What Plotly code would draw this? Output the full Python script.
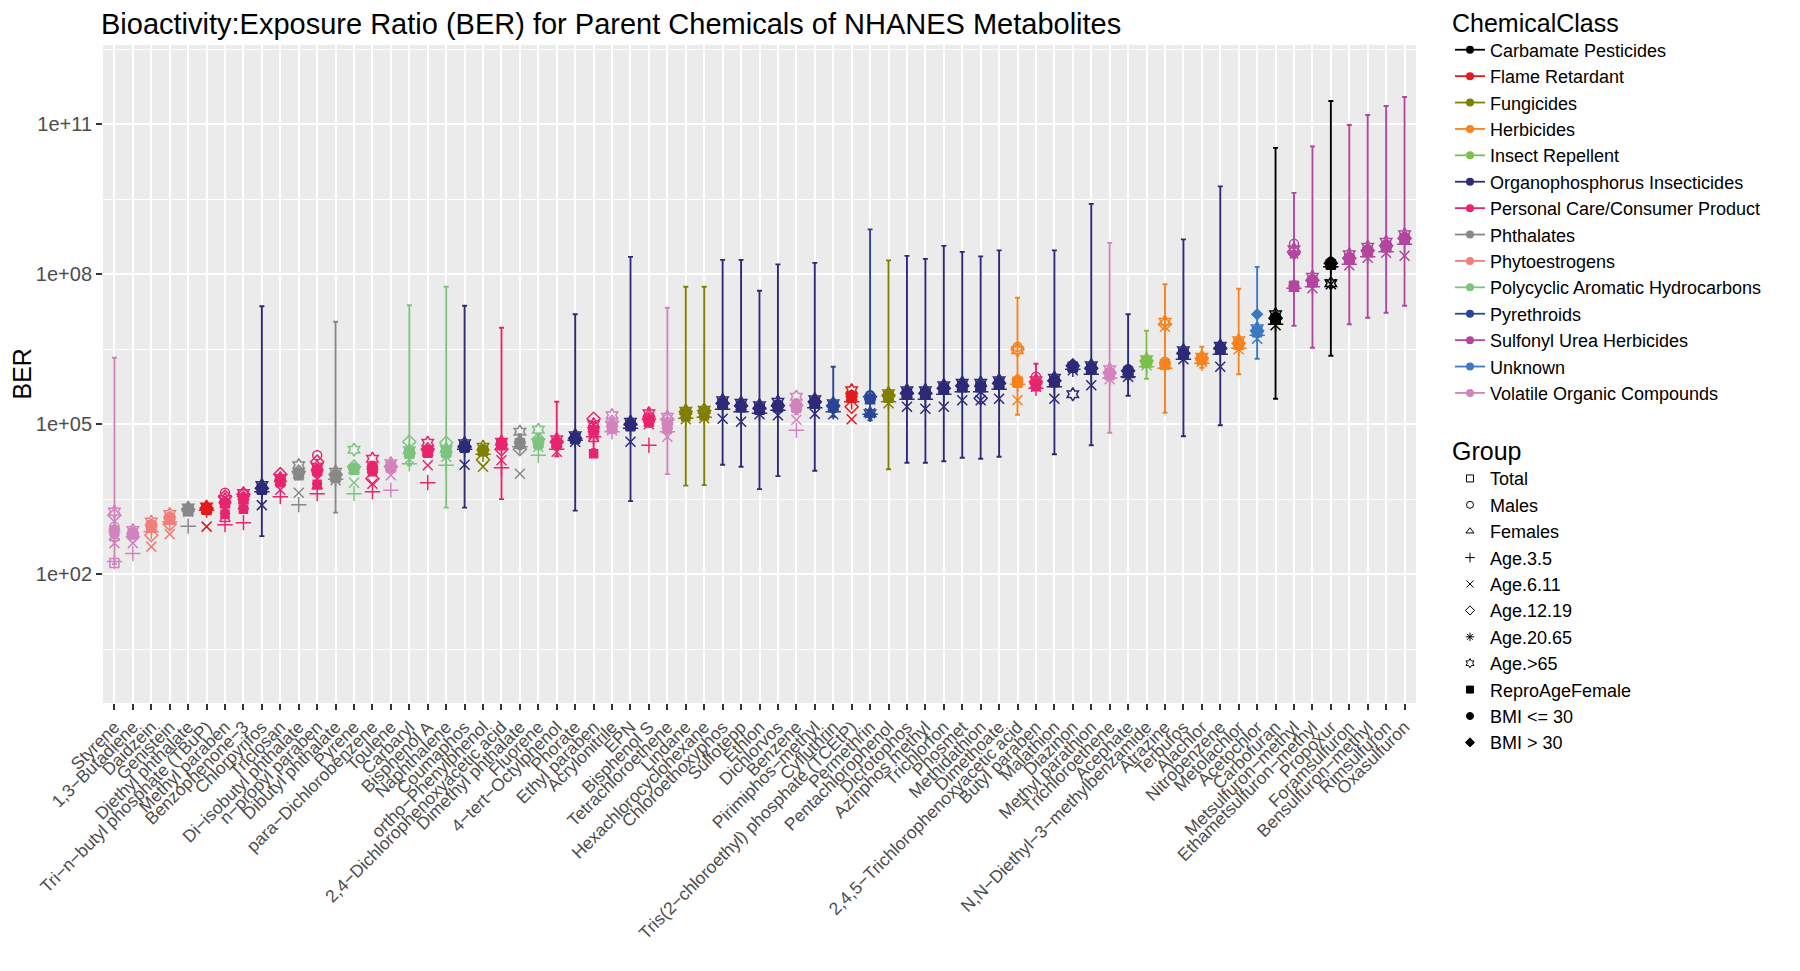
import plotly.graph_objects as go

# ---------------- data ----------------
chemicals = [
    "Styrene", "1,3−Butadiene", "Daidzein", "Genistein", "Diethyl phthalate",
    "Tri−n−butyl phosphate (TBuP)", "Methyl paraben", "Benzophenone−3", "Chlorpyrifos", "Triclosan",
    "Di−isobutyl phthalate", "n−propyl paraben", "Dibutyl phthalate", "Pyrene", "para−Dichlorobenzene",
    "Toulene", "Carbaryl", "Bisphenol A", "Naphthalene", "Coumaphos",
    "ortho−Phenylphenol", "2,4−Dichlorophenoxyacetic acid", "Dimethyl phthalate", "Fluorene", "4−tert−Octylphenol",
    "Phorate", "Ethyl paraben", "Acrylonitrile", "EPN", "Bisphenol S",
    "Tetrachloroethene", "Lindane", "Hexachlorocyclohexane", "Chloroethoxyphos", "Sulfotepp",
    "Ethion", "Dichlorvos", "Benzene", "Pirimiphos−methyl", "Cyfluthrin",
    "Tris(2−chloroethyl) phosphate (TCEtP)", "Permethrin", "Pentachlorophenol", "Dicrotophos", "Azinphos methyl",
    "Trichlorfon", "Phosmet", "Methidathion", "Dimethoate", "2,4,5−Trichlorophenoxyacetic acid",
    "Butyl paraben", "Malathion", "Diazinon", "Methyl parathion", "Trichloroethene",
    "Acephate", "N,N−Diethyl−3−methylbenzamide", "Atrazine", "Terbufos", "Alachlor",
    "Nitrobenzene", "Metolachlor", "Acetochlor", "Carbofuran", "Metsulfuron−methyl",
    "Ethametsulfuron−methyl", "Propoxur", "Foramsulfuron", "Bensulfuron−methyl", "Rimsulfuron",
    "Oxasulfuron",
]

chem_class = [
    "VOC", "VOC", "Phyto", "Phyto", "Phth", "Flame", "PC", "PC", "OP", "PC",
    "Phth", "PC", "Phth", "PAH", "PC", "VOC", "PAH", "PC", "PAH", "OP",
    "Fung", "PC", "Phth", "PAH", "PC", "OP", "PC", "VOC", "OP", "PC",
    "VOC", "Fung", "Fung", "OP", "OP", "OP", "OP", "VOC", "OP", "Pyr",
    "Flame", "Pyr", "Fung", "OP", "OP", "OP", "OP", "OP", "OP", "Herb",
    "PC", "OP", "OP", "OP", "VOC", "OP", "Insect", "Herb", "OP", "Herb",
    "OP", "Herb", "Unknown", "Carb", "SU", "SU", "Carb", "SU", "SU", "SU",
    "SU",
]

class_keys = ["Carb", "Flame", "Fung", "Herb", "Insect", "OP", "PC", "Phth",
              "Phyto", "PAH", "Pyr", "SU", "Unknown", "VOC"]
class_labels = ["Carbamate Pesticides", "Flame Retardant", "Fungicides", "Herbicides",
                "Insect Repellent", "Organophosphorus Insecticides",
                "Personal Care/Consumer Product", "Phthalates", "Phytoestrogens",
                "Polycyclic Aromatic Hydrocarbons", "Pyrethroids",
                "Sulfonyl Urea Herbicides", "Unknown", "Volatile Organic Compounds"]
class_colors = ["#000000", "#E41A1C", "#7F7F00", "#F8821E", "#7CC04A", "#2D2A77",
                "#E7256E", "#888888", "#F07F7A", "#7DC47F", "#2A4597", "#B2479E",
                "#3A7AC2", "#D283BD"]

# log10(BER) by group
log10_total = [
    2.22, 2.80, 2.95, 3.10, 3.28, 3.30, 3.42, 3.50, 3.70, 3.87,
    4.00, 4.08, 3.95, 4.10, 4.12, 4.15, 4.43, 4.45, 4.45, 4.55,
    4.47, 4.60, 4.62, 4.63, 4.62, 4.72, 4.88, 4.95, 4.98, 5.05,
    5.00, 5.20, 5.22, 5.40, 5.35, 5.30, 5.35, 5.35, 5.42, 5.35,
    5.55, 5.50, 5.55, 5.60, 5.60, 5.70, 5.75, 5.75, 5.80, 5.85,
    5.80, 5.85, 6.15, 6.10, 6.00, 6.05, 6.25, 6.20, 6.40, 6.30,
    6.50, 6.60, 6.85, 7.10, 7.75, 7.85, 8.20, 8.30, 8.45, 8.55, 8.70]
log10_males = [
    2.95, 2.85, 3.00, 3.15, 3.30, 3.33, 3.63, 3.60, 3.75, 3.90,
    4.02, 4.38, 3.98, 4.13, 4.15, 4.18, 4.45, 4.48, 4.48, 4.58,
    4.50, 4.62, 4.65, 4.66, 4.65, 4.75, 4.95, 5.00, 5.02, 5.10,
    5.05, 5.23, 5.25, 5.45, 5.40, 5.35, 5.40, 5.40, 5.47, 5.40,
    5.58, 5.58, 5.60, 5.65, 5.65, 5.75, 5.80, 5.80, 5.85, 6.55,
    5.95, 5.90, 6.18, 6.15, 6.05, 6.10, 6.28, 6.25, 6.45, 6.33,
    6.55, 6.65, 6.88, 7.15, 8.61, 7.90, 8.25, 8.35, 8.50, 8.60, 8.75]
log10_females = [
    2.72, 2.78, 2.90, 3.05, 3.26, 3.27, 3.10, 3.35, 3.68, 3.83,
    3.97, 3.75, 3.92, 4.07, 4.08, 4.12, 4.40, 4.42, 4.42, 4.52,
    4.45, 4.57, 4.60, 4.60, 4.60, 4.70, 4.70, 4.92, 4.95, 5.20,
    4.95, 5.17, 5.19, 5.38, 5.33, 5.28, 5.33, 5.33, 5.40, 5.33,
    5.52, 5.52, 5.52, 5.58, 5.58, 5.68, 5.73, 5.73, 5.78, 5.90,
    5.78, 5.83, 6.12, 6.08, 5.97, 6.03, 6.22, 6.18, 6.38, 6.28,
    6.48, 6.58, 6.83, 7.08, 7.80, 7.83, 8.18, 8.28, 8.43, 8.53, 8.68]
log10_age_3_5 = [
    2.25, 2.41, 2.85, 3.05, 2.96, 3.28, 2.99, 3.03, 3.65, 3.55,
    3.39, 3.61, 3.90, 3.61, 3.65, 3.68, 4.21, 3.83, 4.18, 4.50,
    4.40, 4.13, 4.55, 4.38, 4.50, 4.68, 4.75, 4.85, 4.92, 4.58,
    4.85, 5.12, 5.14, 5.30, 5.25, 5.22, 5.28, 4.88, 5.33, 5.25,
    5.45, 5.20, 5.45, 5.50, 5.50, 5.60, 5.65, 5.65, 5.70, 5.80,
    5.72, 5.75, 6.10, 6.00, 5.92, 5.95, 6.15, 6.12, 6.30, 6.22,
    6.40, 6.52, 6.78, 7.00, 7.72, 7.75, 8.15, 8.20, 8.35, 8.45, 8.60]
log10_age_6_11 = [
    2.62, 2.62, 2.55, 2.80, 3.25, 2.95, 3.30, 3.40, 3.38, 3.69,
    3.63, 3.90, 3.88, 3.83, 3.81, 3.98, 4.30, 4.18, 4.35, 4.19,
    4.15, 4.28, 4.01, 4.55, 4.45, 4.65, 4.80, 4.88, 4.65, 5.00,
    4.75, 5.10, 5.12, 5.11, 5.05, 5.20, 5.18, 5.09, 5.21, 5.20,
    5.10, 5.22, 5.42, 5.35, 5.31, 5.35, 5.48, 5.48, 5.51, 5.48,
    5.75, 5.51, 6.08, 5.78, 5.90, 5.95, 6.18, 6.95, 6.30, 6.25,
    6.15, 6.50, 6.71, 6.98, 7.75, 7.72, 7.80, 8.18, 8.33, 8.43, 8.37]
log10_age_12_19 = [
    3.18, 2.75, 2.78, 3.00, 3.30, 3.32, 3.55, 3.60, 3.72, 4.00,
    4.05, 4.25, 4.00, 4.15, 3.91, 4.15, 4.65, 4.50, 4.63, 4.55,
    4.29, 4.50, 4.50, 4.70, 4.65, 4.72, 5.11, 5.05, 5.00, 5.10,
    5.10, 5.25, 5.27, 5.42, 5.37, 5.32, 5.37, 5.38, 5.45, 5.37,
    5.35, 5.55, 5.58, 5.62, 5.62, 5.72, 5.77, 5.52, 5.82, 6.50,
    5.85, 5.87, 6.17, 6.12, 6.03, 6.07, 6.27, 7.00, 6.42, 6.32,
    6.52, 6.62, 6.87, 7.12, 8.45, 7.88, 8.22, 8.32, 8.47, 8.57, 8.72]
log10_age_20_65 = [
    2.85, 2.80, 2.95, 3.10, 3.28, 3.30, 3.42, 3.50, 3.70, 3.87,
    4.00, 4.05, 3.95, 4.10, 4.10, 4.15, 4.43, 4.45, 4.45, 4.55,
    4.47, 4.60, 4.62, 4.63, 4.62, 4.72, 4.85, 4.95, 4.98, 5.05,
    5.00, 5.20, 5.22, 5.40, 5.35, 5.30, 5.35, 5.35, 5.42, 5.35,
    5.55, 5.50, 5.55, 5.60, 5.60, 5.70, 5.75, 5.75, 5.80, 5.85,
    5.80, 5.85, 6.15, 6.10, 6.00, 6.05, 6.25, 6.20, 6.40, 6.30,
    6.50, 6.60, 6.85, 7.10, 8.40, 7.85, 8.20, 8.30, 8.45, 8.55, 8.70]
log10_age_65plus = [
    3.25, 2.88, 3.05, 3.20, 3.33, 3.35, 3.50, 3.62, 3.78, 3.92,
    4.18, 4.15, 4.05, 4.49, 4.31, 4.22, 4.48, 4.63, 4.50, 4.62,
    4.55, 4.65, 4.85, 4.89, 4.70, 4.78, 5.00, 5.18, 5.05, 5.22,
    5.15, 5.27, 5.29, 5.48, 5.43, 5.38, 5.45, 5.55, 5.50, 5.42,
    5.68, 5.22, 5.62, 5.68, 5.68, 5.78, 5.83, 5.83, 5.88, 6.48,
    5.88, 5.93, 5.60, 6.18, 6.10, 6.00, 6.30, 7.05, 6.48, 6.35,
    6.57, 6.68, 6.92, 7.20, 8.50, 7.95, 7.82, 8.40, 8.55, 8.65, 8.80]
log10_repro_female = [
    2.88, 2.82, 2.92, 3.08, 3.25, 3.28, 3.20, 3.30, 3.68, 3.83,
    3.97, 3.80, 3.92, 4.08, 4.05, 4.12, 4.40, 4.42, 4.42, 4.52,
    4.45, 4.57, 4.60, 4.60, 4.58, 4.70, 4.41, 4.90, 4.95, 5.05,
    4.90, 5.15, 5.17, 5.38, 5.33, 5.28, 5.33, 5.32, 5.40, 5.33,
    5.52, 5.50, 5.52, 5.58, 5.58, 5.68, 5.73, 5.73, 5.78, 5.82,
    5.75, 5.83, 6.12, 6.08, 5.97, 6.03, 6.22, 6.18, 6.38, 6.28,
    6.48, 6.58, 6.83, 7.08, 7.78, 7.83, 8.18, 8.28, 8.43, 8.53, 8.68]
log10_bmi_le30 = [
    2.80, 2.80, 2.95, 3.10, 3.28, 3.30, 3.40, 3.50, 3.70, 3.86,
    4.00, 4.05, 3.95, 4.10, 4.10, 4.15, 4.43, 4.45, 4.45, 4.55,
    4.47, 4.60, 4.62, 4.63, 4.62, 4.72, 4.85, 4.95, 4.98, 5.05,
    5.00, 5.20, 5.22, 5.40, 5.35, 5.30, 5.35, 5.35, 5.42, 5.35,
    5.55, 5.52, 5.55, 5.60, 5.60, 5.70, 5.75, 5.75, 5.80, 5.85,
    5.80, 5.85, 6.15, 6.10, 6.00, 6.05, 6.25, 6.20, 6.40, 6.30,
    6.50, 6.60, 6.85, 7.10, 7.75, 7.85, 8.20, 8.30, 8.45, 8.55, 8.70]
log10_bmi_gt30 = [
    2.90, 2.83, 3.00, 3.15, 3.30, 3.32, 3.45, 3.55, 3.72, 3.90,
    4.03, 4.10, 3.97, 4.12, 4.15, 4.18, 4.45, 4.48, 4.47, 4.58,
    4.50, 4.62, 4.65, 4.65, 4.65, 4.74, 4.90, 4.98, 5.00, 5.08,
    5.02, 5.22, 5.24, 5.43, 5.38, 5.33, 5.38, 5.38, 5.45, 5.38,
    5.58, 5.20, 5.58, 5.63, 5.63, 5.73, 5.78, 5.78, 5.83, 5.90,
    5.83, 5.88, 6.20, 6.13, 6.03, 6.08, 6.28, 6.23, 6.43, 6.33,
    6.53, 6.63, 7.20, 7.13, 8.40, 7.88, 8.25, 8.33, 8.48, 8.58, 8.73]

# interval around the Total estimate (log10 BER)
log10_lower = [
    2.20, 2.75, 2.85, 3.00, 3.20, 3.25, 3.30, 3.35, 2.76, 3.80,
    3.95, 3.95, 3.23, 4.00, 4.00, 4.05, 4.18, 4.35, 3.33, 3.33,
    4.40, 3.50, 4.50, 4.50, 4.36, 3.27, 4.50, 4.85, 3.46, 4.95,
    4.00, 3.77, 3.78, 4.19, 4.15, 3.70, 3.96, 5.20, 4.07, 5.15,
    5.45, 5.08, 4.10, 4.23, 4.23, 4.26, 4.33, 4.31, 4.35, 5.19,
    5.70, 4.40, 6.05, 4.58, 4.83, 5.57, 5.91, 5.23, 4.76, 6.13,
    4.98, 6.00, 6.31, 5.51, 6.97, 6.53, 6.37, 7.00, 7.13, 7.23, 7.37]
log10_upper = [
    6.33, 2.90, 3.05, 3.22, 3.35, 3.36, 3.55, 3.62, 7.36, 3.95,
    4.10, 4.20, 7.05, 4.20, 4.25, 4.22, 7.38, 4.55, 7.75, 7.37,
    4.58, 6.93, 4.80, 4.80, 5.45, 7.20, 5.05, 5.12, 8.35, 5.15,
    7.33, 7.75, 7.75, 8.29, 8.29, 7.67, 8.20, 5.50, 8.23, 6.15,
    5.65, 8.90, 8.28, 8.37, 8.31, 8.57, 8.45, 8.36, 8.48, 7.53,
    6.21, 8.48, 6.25, 9.41, 8.63, 7.20, 6.87, 7.80, 8.70, 6.55,
    9.76, 7.71, 8.15, 10.53, 9.63, 10.56, 11.47, 10.99, 11.19, 11.37, 11.55]

group_names = ["Total", "Males", "Females", "Age.3.5", "Age.6.11", "Age.12.19",
               "Age.20.65", "Age.>65", "ReproAgeFemale", "BMI <= 30", "BMI > 30"]
group_values = [log10_total, log10_males, log10_females, log10_age_3_5, log10_age_6_11,
                log10_age_12_19, log10_age_20_65, log10_age_65plus, log10_repro_female,
                log10_bmi_le30, log10_bmi_gt30]
group_symbols = ["square-open", "circle-open", "triangle-up-open", "cross-thin-open",
                 "x-thin-open", "diamond-open", "asterisk-open", "hexagram-open",
                 "square", "circle", "diamond"]
group_sizes = [9, 9, 9, 11, 10, 10, 10, 10, 8, 9, 8]

FONT = "Liberation Sans, Arial, Helvetica, sans-serif"
color_of = dict(zip(class_keys, class_colors))
label_of = dict(zip(class_keys, class_labels))
point_colors = [color_of[c] for c in chem_class]

fig = go.Figure()

# error bars, one trace per class
for key in class_keys:
    idx = [i for i, c in enumerate(chem_class) if c == key]
    if not idx:
        continue
    yv = [10 ** log10_total[i] for i in idx]
    up = [10 ** log10_upper[i] - 10 ** log10_total[i] for i in idx]
    dn = [10 ** log10_total[i] - 10 ** log10_lower[i] for i in idx]
    fig.add_trace(go.Scatter(
        x=[chemicals[i] for i in idx], y=yv, mode="markers",
        marker=dict(size=1, color="rgba(0,0,0,0)"),
        error_y=dict(type="data", symmetric=False, array=up, arrayminus=dn,
                     color=color_of[key], thickness=1.9, width=2.5),
        showlegend=False, hoverinfo="skip"))

# points, one trace per group
for g, vals, sym, sz in zip(group_names, group_values, group_symbols, group_sizes):
    fig.add_trace(go.Scatter(
        x=chemicals, y=[10 ** v for v in vals], mode="markers", name=g,
        marker=dict(symbol=sym, size=sz, color=point_colors,
                    line=dict(color=point_colors, width=1.5)),
        showlegend=False))

# legend entries: chemical class
for key in class_keys:
    fig.add_trace(go.Scatter(
        x=[None], y=[None], mode="lines+markers", name=label_of[key],
        line=dict(color=color_of[key], width=1.8),
        marker=dict(symbol="circle", size=8, color=color_of[key]),
        legend="legend"))

# legend entries: group
for g, sym in zip(group_names, group_symbols):
    fig.add_trace(go.Scatter(
        x=[None], y=[None], mode="markers", name=g,
        marker=dict(symbol=sym, size=7, color="black", line=dict(color="black", width=1)),
        legend="legend2"))

# page has an 8px body margin; lay out in figure coordinates accordingly
OFF = 8
SW, SH = 1800, 971
W, H = SW - OFF, SH - OFF
L, R, T, B = 102.5 - OFF, 1416.0 - OFF, 45.0 - OFF, 703.5 - OFF
ph = B - T
pw = R - L

fig.update_layout(
    width=W, height=H,
    margin=dict(l=L, r=W - R, t=T, b=H - B, autoexpand=False),
    paper_bgcolor="white", plot_bgcolor="#EBEBEB",
    font=dict(family=FONT, color="black"),
    title=dict(text="Bioactivity:Exposure Ratio (BER) for Parent Chemicals of NHANES Metabolites",
               x=(101 - OFF) / W, xanchor="left", y=1 - 6 / H, yanchor="top",
               font=dict(size=29, family=FONT, color="black")),
    xaxis=dict(type="category", categoryorder="array", categoryarray=chemicals,
               tickmode="array", tickvals=chemicals, ticktext=chemicals,
               range=[-0.62, len(chemicals) - 1 + 0.62],
               showgrid=True, gridcolor="white", gridwidth=2.2, zeroline=False,
               showline=False, ticks="outside", ticklen=6, tickwidth=1.6, tickcolor="#333333",
               tickangle=-45, tickfont=dict(size=17.5, color="#4D4D4D", family=FONT),
               automargin=False),
    yaxis=dict(type="log", range=[-0.58, 12.59],
               tickvals=[1e2, 1e5, 1e8, 1e11],
               ticktext=["1e+02", "1e+05", "1e+08", "1e+11"],
               showgrid=True, gridcolor="white", gridwidth=2.2, zeroline=False,
               showline=False, ticks="outside", ticklen=6, tickwidth=1.6, tickcolor="#333333",
               tickfont=dict(size=20, color="#4D4D4D", family=FONT),
               minor=dict(tickvals=[10 ** 0.5, 10 ** 3.5, 10 ** 6.5, 10 ** 9.5, 10 ** 12.5],
                          showgrid=True, gridcolor="white", gridwidth=1.1, ticks=""),
               automargin=False),
    legend=dict(title=dict(text="ChemicalClass", font=dict(size=25, family=FONT)),
                font=dict(size=18, family=FONT), x=(1442 - L) / pw, xanchor="left",
                y=1 + (T + 9) / ph, yanchor="top", bgcolor="rgba(0,0,0,0)",
                tracegroupgap=0, itemwidth=30),
    legend2=dict(title=dict(text="Group", font=dict(size=25, family=FONT)),
                 font=dict(size=18, family=FONT), x=(1442 - L) / pw, xanchor="left",
                 y=1 - (420 - T) / ph, yanchor="top", bgcolor="rgba(0,0,0,0)",
                 tracegroupgap=0, itemwidth=30),
    annotations=[dict(text="BER", textangle=-90, xref="paper", yref="paper",
                      x=(21 - OFF - L) / pw, y=0.5, xanchor="center", yanchor="middle",
                      showarrow=False, font=dict(size=25, family=FONT, color="black"))],
)

fig.write_html("out.html")
